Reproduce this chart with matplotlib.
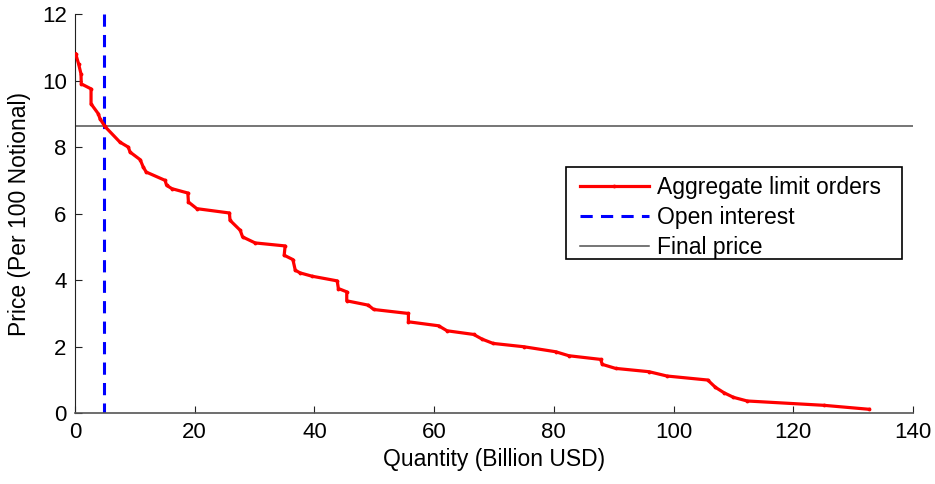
import matplotlib
matplotlib.use("Agg")
import matplotlib.pyplot as plt
from matplotlib.patches import Rectangle

quantity = [0.12, 0.6, 1.0, 1.05, 2.68, 2.68, 3.9, 4.18, 5.0, 7.5, 8.9, 9.2, 10.9, 11.4, 11.9,
            15.05, 15.3, 16.2, 18.85, 18.95, 20.35, 25.8, 25.9, 27.6, 28.0, 30.1, 35.1, 34.95,
            36.4, 36.8, 37.6, 39.6, 43.8, 44.0, 45.4, 45.4, 49.0, 49.9, 55.7, 55.7, 60.75,
            62.15, 66.6, 68.0, 69.85, 75.0, 80.3, 82.5, 87.8, 88.1, 90.3, 95.9, 98.9, 105.7,
            107.0, 108.4, 110.0, 112.3, 125.1, 132.7]
price = [10.8, 10.5, 10.2, 9.9, 9.75, 9.3, 9.0, 8.85, 8.62, 8.15, 8.0, 7.85, 7.62, 7.4, 7.25,
         7.0, 6.85, 6.75, 6.62, 6.35, 6.15, 6.02, 5.8, 5.5, 5.3, 5.12, 5.03, 4.75,
         4.62, 4.3, 4.22, 4.12, 3.98, 3.75, 3.65, 3.38, 3.25, 3.12, 3.0, 2.75, 2.63,
         2.48, 2.37, 2.23, 2.1, 2.0, 1.85, 1.73, 1.62, 1.47, 1.35, 1.25, 1.12, 1.0,
         0.78, 0.62, 0.48, 0.37, 0.24, 0.12]
open_interest = 4.9
final_price = 8.62

xticks = [0, 20, 40, 60, 80, 100, 120, 140]
yticks = [0, 2, 4, 6, 8, 10, 12]

plt.rcParams['font.family'] = ['Liberation Sans', 'DejaVu Sans']

W, H = 935, 484
fig = plt.figure(figsize=(W/100, H/100), dpi=100)
ax = fig.add_axes([75/W, 1-413.3/H, (913-75)/W, (413.3-14)/H])

ax.plot(quantity, price, color='red', lw=2.3, marker='.', markersize=3.5,
        label='Aggregate limit orders', zorder=3)
ax.plot([open_interest, open_interest], [12, 0], color='blue', lw=2.2,
        dashes=(4, 2.7), label='Open interest', zorder=2)
ax.plot([0, 140], [final_price, final_price], color='#505050', lw=1.1,
        label='Final price', zorder=2)

ax.set_xlim(0, 140)
ax.set_ylim(0, 12)
ax.set_xticks(xticks)
ax.set_yticks(yticks)
ax.tick_params(direction='in', length=5, width=0.8, labelsize=16, colors='#222222',
               labelcolor='black', pad=6)
for s in ['top', 'right']:
    ax.spines[s].set_visible(False)
ax.spines['left'].set_color('#222222')
ax.spines['bottom'].set_color('#555555')
ax.spines['bottom'].set_linewidth(1.2)

ax.set_xlabel('Quantity (Billion USD)', fontsize=16.5, labelpad=4)
ax.set_ylabel('Price (Per 100 Notional)', fontsize=16.5, labelpad=8)

leg = ax.legend(loc='upper left', bbox_to_anchor=(580/W, 1-176/H),
                bbox_transform=fig.transFigure, fontsize=16.5, frameon=False,
                handlelength=3.0, handletextpad=0.36, borderpad=0.0,
                labelspacing=0.3, borderaxespad=0)
fig.add_artist(Rectangle((566/W, 1-259.3/H), (901.7-566)/W, (259.3-167.3)/H,
                         transform=fig.transFigure, fill=True, facecolor='white',
                         edgecolor='black', lw=1.2, zorder=4))
leg.set_zorder(5)
leg.remove()
fig.add_artist(leg)

fig.savefig('out.png', dpi=100)
